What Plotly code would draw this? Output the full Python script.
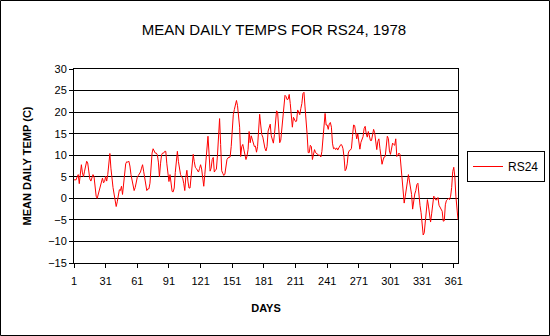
import plotly.graph_objects as go

days = list(range(1, 366))

temps = [
    4.3, 4.3, 4.3, 5.0, 5.5, 3.4, 6.7, 7.8, 5.9, 5.0,
    6.3, 7.2, 8.6, 8.2, 5.9, 4.5, 4.0, 4.6, 5.5, 5.0,
    2.5, 0.5, 0.0, 1.0, 2.0, 2.8, 4.3, 4.7, 3.6, 3.9,
    5.1, 4.0, 5.5, 8.5, 10.4, 7.0, 4.3, 2.5, 1.0, -0.9,
    -1.9, -0.8, 0.5, 2.0, 1.8, 2.8, 0.9, 3.5, 6.0, 8.0,
    8.5, 8.4, 8.6, 7.5, 5.5, 4.0, 2.5, 1.8, 2.5, 4.3,
    4.9, 5.3, 5.7, 6.1, 7.0, 7.8, 6.3, 4.5, 2.8, 1.8,
    2.2, 2.2, 3.5, 7.8, 10.5, 11.5, 10.9, 10.5, 10.5, 10.1,
    8.4, 5.0, 8.0, 10.1, 10.5, 10.5, 10.9, 10.9, 8.0, 5.5,
    3.9, 5.5, 3.2, 1.6, 1.5, 2.4, 6.0, 9.5, 10.9, 8.5,
    6.3, 5.5, 5.0, 4.7, 3.5, 1.8, 4.9, 6.5, 4.0, 2.4,
    2.4, 5.5, 8.5, 10.2, 8.5, 7.2, 6.9, 6.6, 6.1, 6.9,
    7.8, 6.8, 5.0, 2.8, 5.5, 9.0, 12.0, 14.4, 10.5, 6.3,
    7.0, 9.0, 9.5, 6.1, 6.5, 6.8, 10.0, 14.0, 18.5, 12.5,
    6.4, 5.8, 5.3, 5.6, 7.2, 9.0, 9.4, 9.6, 9.6, 12.0,
    17.5, 19.4, 20.6, 21.4, 22.7, 21.5, 18.0, 16.5, 9.7, 12.0,
    12.5, 11.2, 9.5, 9.0, 9.8, 11.3, 15.5, 12.9, 14.5, 13.5,
    13.2, 12.0, 12.1, 10.7, 12.0, 15.5, 19.5, 17.0, 14.8, 14.2,
    12.6, 11.6, 11.0, 12.0, 15.6, 16.7, 17.2, 14.5, 13.3, 12.8,
    14.8, 17.5, 20.3, 20.0, 16.0, 12.9, 13.5, 16.3, 19.5, 21.9,
    23.9, 23.6, 22.9, 23.0, 24.1, 22.0, 18.0, 16.5, 18.8, 18.2,
    17.8, 17.9, 20.5, 20.0, 19.4, 20.8, 22.0, 24.3, 24.6, 21.2,
    18.5, 14.8, 10.6, 10.6, 12.3, 12.0, 9.0, 10.2, 11.3, 10.6,
    10.4, 10.1, 10.0, 10.0, 9.6, 10.9, 14.0, 17.5, 19.7, 17.0,
    17.0, 16.0, 17.3, 17.6, 16.5, 12.8, 11.5, 11.7, 11.3, 11.7,
    11.2, 11.7, 12.0, 12.5, 12.3, 11.5, 9.5, 6.4, 6.8, 8.0,
    10.5, 11.1, 11.2, 11.6, 14.4, 17.0, 16.9, 14.7, 13.8, 15.0,
    13.5, 11.4, 13.0, 14.0, 14.3, 16.2, 16.7, 15.0, 14.2, 15.5,
    14.0, 13.4, 13.4, 15.2, 16.0, 15.2, 12.8, 11.3, 13.2, 13.8,
    11.6, 9.2, 7.9, 8.9, 9.6, 9.7, 12.2, 14.4, 13.9, 11.0,
    10.2, 11.6, 12.8, 12.5, 12.3, 13.8, 9.7, 10.0, 10.5, 10.2,
    7.0, 3.5, 0.5, -1.1, 0.5, 2.8, 3.8, 5.5, 4.0, 2.2,
    0.9, -2.5, -0.5, 1.0, 1.8, 3.2, 3.5, -0.4, -1.7, -3.3,
    -5.5, -8.5, -8.0, -5.5, -3.2, -0.3, -1.8, -3.8, -5.5, -3.6,
    -1.4, 0.5, 0.2, -0.4, -0.3, 0.2, -1.6, -2.2, -2.4, -3.0,
    -5.3, -5.2, -1.5, -0.5, -0.3, 0.0, -0.3, 0.5, 2.5, 6.2,
    7.2, 5.0, 0.5, -3.4, -5.0,
]

x_ticks = [1, 31, 61, 91, 121, 151, 181, 211, 241, 271, 301, 331, 361]
y_ticks = [-15, -10, -5, 0, 5, 10, 15, 20, 25, 30]

W, H = 550, 336
L, R, T, B = 74, 92, 69, 73
pw = W - L - R
ph = H - T - B

FONT = "Liberation Sans, Arial, sans-serif"

fig = go.Figure()
fig.add_trace(go.Scatter(
    x=days, y=temps, mode="lines", name="RS24",
    line=dict(color="#ff0000", width=1),
))

fig.update_layout(
    width=W, height=H,
    margin=dict(l=L, r=R, t=T, b=B, autoexpand=False),
    paper_bgcolor="white", plot_bgcolor="white",
    font=dict(family=FONT, color="black", size=11),
    title=dict(text="MEAN DAILY TEMPS FOR RS24, 1978", x=274 / W, xref="container",
               xanchor="center", y=1 - 30 / H, yanchor="middle",
               font=dict(family=FONT, size=15, color="black")),
    showlegend=True,
    legend=dict(x=467 / W, y=1 - 151 / H, xref="container", yref="container",
                xanchor="left", yanchor="top",
                bordercolor="black", borderwidth=1, bgcolor="white",
                font=dict(family=FONT, size=12, color="black"),
                tracegroupgap=0, itemwidth=30),
    xaxis=dict(range=[1, 365], tickmode="array", tickvals=x_ticks,
               ticktext=[str(v) for v in x_ticks],
               showgrid=False, zeroline=False, automargin=False,
               showline=True, linecolor="black", linewidth=1, mirror=True,
               ticks="outside", ticklen=4, tickcolor="black",
               ticklabelstandoff=4,
               tickfont=dict(family=FONT, size=11, color="black"),
               title=dict(text="<b>DAYS</b>", standoff=18,
                          font=dict(family=FONT, size=11, color="black"))),
    yaxis=dict(range=[-15, 30], tickmode="array", tickvals=y_ticks,
               showgrid=True, gridcolor="black", gridwidth=1, zeroline=False,
               automargin=False,
               showline=True, linecolor="black", linewidth=1, mirror=True,
               ticks="outside", ticklen=4, tickcolor="black",
               tickfont=dict(family=FONT, size=11, color="black"),
               title=dict(text="<b>MEAN DAILY TEMP (C)</b>", standoff=14,
                          font=dict(family=FONT, size=11, color="black"))),
)

fig.add_shape(type="rect", xref="paper", yref="paper",
              x0=(0.5 - L) / pw, x1=(W - 0.5 - L) / pw,
              y0=((H - B) - (H - 0.5)) / ph,
              y1=((H - B) - 0.5) / ph,
              line=dict(color="black", width=1), fillcolor="rgba(0,0,0,0)", layer="below")

fig.write_html("out.html")
